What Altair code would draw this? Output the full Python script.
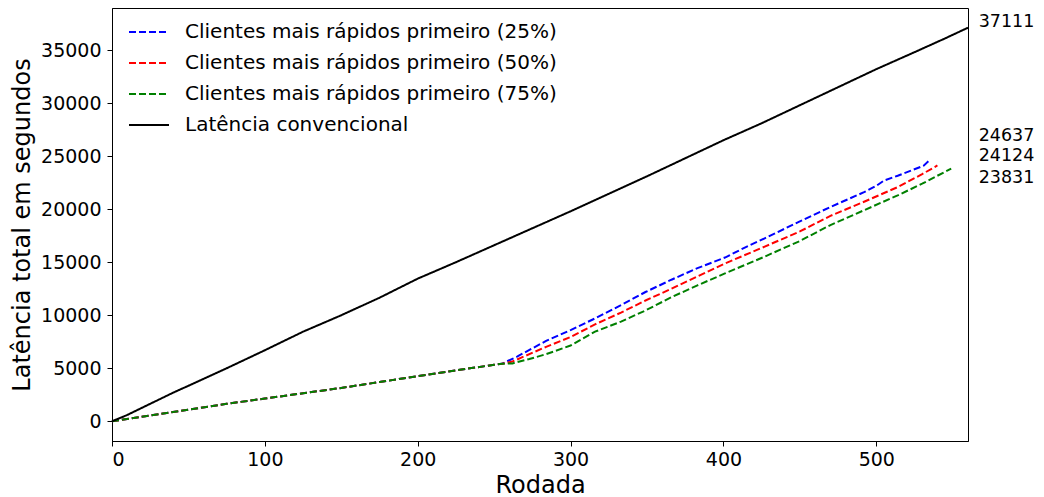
import altair as alt
import pandas as pd

S_BLUE = "Clientes mais rápidos primeiro (25%)"
S_RED = "Clientes mais rápidos primeiro (50%)"
S_GREEN = "Clientes mais rápidos primeiro (75%)"
S_CONV = "Latência convencional"

# shared early part of the three dashed series
shared_rounds = [0, 25, 50, 75, 100, 125, 150, 175, 200, 225, 250, 255]
shared_vals = [0, 550, 1100, 1650, 2150, 2650, 3150, 3700, 4250, 4800, 5330, 5420]

blue_rounds = [265, 284, 300, 316, 333, 349, 366, 383, 401, 415, 427, 450, 470, 492, 500, 505, 514, 531, 535]
blue_vals = [6100, 7580, 8600, 9700, 10950, 12190, 13350, 14440, 15440, 16450, 17250, 18850, 20210, 21600, 22200, 22700, 23150, 24100, 24637]

red_rounds = [262, 284, 300, 316, 333, 349, 366, 383, 401, 427, 450, 470, 492, 514, 530, 540]
red_vals = [5640, 7020, 7950, 9140, 10250, 11390, 12500, 13660, 14880, 16470, 17900, 19370, 20700, 22080, 23300, 24124]

green_rounds = [262, 273, 284, 300, 316, 333, 349, 366, 383, 401, 427, 450, 470, 492, 514, 530, 549]
green_vals = [5460, 5870, 6330, 7150, 8450, 9400, 10450, 11700, 12820, 13940, 15530, 17000, 18500, 19900, 21300, 22400, 23831]

conv_rounds = [0, 10, 25, 40, 50, 75, 100, 125, 150, 175, 200, 225, 250, 275, 300, 325, 350, 375, 400, 425, 450, 475, 500, 525, 545, 560]
conv_vals = [0, 600, 1650, 2700, 3350, 5000, 6700, 8450, 10000, 11650, 13450, 15000, 16600, 18200, 19800, 21450, 23100, 24800, 26500, 28100, 29800, 31500, 33200, 34800, 36100, 37111]

end_labels = ["37111", "24637", "24124", "23831"]
end_label_y = [37620, 26857, 24986, 22927]

series_order = [S_BLUE, S_RED, S_GREEN, S_CONV]
series_colors = ["#0000ff", "#ff0000", "#008000", "#000000"]

rows = []
for name, rr, vv in [
    (S_BLUE, blue_rounds, blue_vals),
    (S_RED, red_rounds, red_vals),
    (S_GREEN, green_rounds, green_vals),
]:
    for r, v in zip(shared_rounds + rr, shared_vals + vv):
        rows.append({"serie": name, "rodada": r, "lat": v})
for r, v in zip(conv_rounds, conv_vals):
    rows.append({"serie": S_CONV, "rodada": r, "lat": v})
df = pd.DataFrame(rows)

lab_df = pd.DataFrame({"txt": end_labels, "y": end_label_y, "x": [567.0] * 4})

xscale = alt.Scale(domain=[0, 560], nice=False, zero=False)
yscale = alt.Scale(domain=[-1856, 38967], nice=False, zero=False)

lines = alt.Chart(df).mark_line(strokeWidth=2).encode(
    x=alt.X("rodada:Q", scale=xscale,
            axis=alt.Axis(title="Rodada", values=[0, 100, 200, 300, 400, 500], format="d")),
    y=alt.Y("lat:Q", scale=yscale,
            axis=alt.Axis(title="Latência total em segundos", format="d",
                          values=[0, 5000, 10000, 15000, 20000, 25000, 30000, 35000])),
    color=alt.Color("serie:N",
                    scale=alt.Scale(domain=series_order, range=series_colors),
                    legend=alt.Legend(title=None)),
    strokeDash=alt.StrokeDash("serie:N",
                              scale=alt.Scale(domain=series_order,
                                              range=[[7, 3], [7, 3], [7, 3], [1, 0]]),
                              legend=alt.Legend(title=None)),
    order=alt.Order("rodada:Q"),
)

texts = alt.Chart(lab_df).mark_text(align="left", baseline="middle", fontSize=17.5,
                                    font="DejaVu Sans", color="black").encode(
    x=alt.X("x:Q", scale=xscale),
    y=alt.Y("y:Q", scale=yscale),
    text="txt:N",
)

chart = alt.layer(lines, texts).properties(
    width=856, height=433,
    autosize=alt.AutoSizeParams(type="none"),
    padding={"left": 104, "top": 0, "right": 68, "bottom": 56},
).configure(
    font="DejaVu Sans",
).configure_view(
    stroke="black", strokeWidth=1,
).configure_axis(
    grid=False,
    domainColor="black",
    tickColor="black",
    tickSize=5,
    labelFontSize=19,
    labelColor="black",
    titleFontSize=24,
    titleFontWeight="normal",
    titleColor="black",
    labelFont="DejaVu Sans",
    titleFont="DejaVu Sans",
).configure_axisY(
    labelPadding=6,
    titlePadding=6,
).configure_axisX(
    labelPadding=4,
    titlePadding=4,
).configure_legend(
    orient="none",
    legendX=16,
    legendY=3,
    symbolType="stroke",
    symbolSize=1600,
    symbolStrokeWidth=2,
    labelFontSize=20,
    labelFont="DejaVu Sans",
    labelColor="black",
    labelOffset=15,
    rowPadding=-0.7,
    labelLimit=600,
    padding=0,
)

chart.save("out.html", embed_options={"renderer": "svg", "actions": False})
